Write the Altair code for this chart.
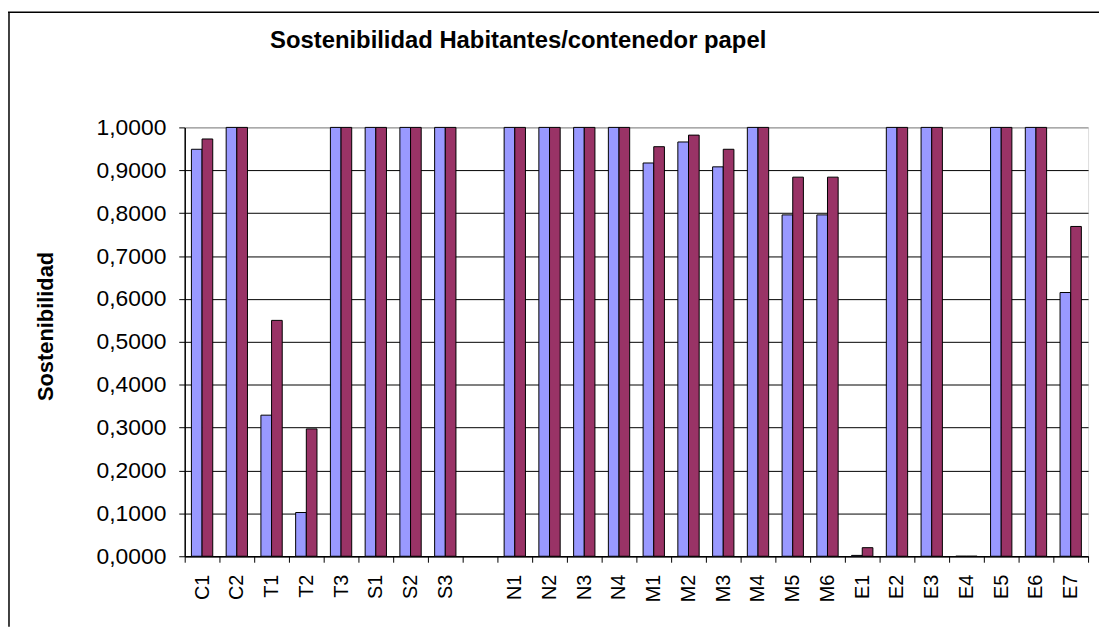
import altair as alt
import pandas as pd

categories = ["C1", "C2", "T1", "T2", "T3", "S1", "S2", "S3", " ",
              "N1", "N2", "N3", "N4", "M1", "M2", "M3", "M4", "M5", "M6",
              "E1", "E2", "E3", "E4", "E5", "E6", "E7"]
series_names = ["Serie1", "Serie2"]
serie1 = [0.949, 1.0, 0.329, 0.102, 1.0, 1.0, 1.0, 1.0, None,
          1.0, 1.0, 1.0, 1.0, 0.917, 0.966, 0.908, 1.0, 0.796, 0.796,
          0.002, 1.0, 1.0, 0.0, 1.0, 1.0, 0.615]
serie2 = [0.973, 1.0, 0.550, 0.297, 1.0, 1.0, 1.0, 1.0, None,
          1.0, 1.0, 1.0, 1.0, 0.955, 0.982, 0.949, 1.0, 0.884, 0.884,
          0.020, 1.0, 1.0, 0.0, 1.0, 1.0, 0.769]
colors = ["#9999FF", "#993366"]

rows = []
for c, a, b in zip(categories, serie1, serie2):
    if a is not None:
        rows.append({"cat": c, "serie": series_names[0], "value": a})
    if b is not None:
        rows.append({"cat": c, "serie": series_names[1], "value": b})
df = pd.DataFrame(rows)

FONT = "Liberation Sans"

bars = alt.Chart(df).mark_bar(stroke="black", strokeWidth=1).encode(
    x=alt.X("cat:N", sort=categories,
            scale=alt.Scale(domain=categories, paddingInner=0, paddingOuter=0),
            axis=alt.Axis(title=None, labelAngle=-90, labelFontSize=20,
                          labelFont=FONT, labelColor="black", labelPadding=12,
                          tickBand="extent", tickColor="black", tickSize=6,
                          domainColor="black", domainWidth=1.5, grid=False)),
    xOffset=alt.XOffset("serie:N", sort=series_names,
                        scale=alt.Scale(domain=series_names, paddingOuter=0.63,
                                        paddingInner=0)),
    y=alt.Y("value:Q",
            scale=alt.Scale(domain=[0, 1], nice=False),
            axis=alt.Axis(title="Sostenibilidad", values=[i / 10 for i in range(11)],
                          labelExpr="replace(format(datum.value, '.4f'), '.', ',')",
                          labelFontSize=23, labelFont=FONT, labelColor="black",
                          labelPadding=13, tickColor="black", tickSize=6,
                          domainColor="black", domainWidth=1.5,
                          gridColor={"condition": {"test": "datum.value == 1", "value": "#808080"},
                                     "value": "black"},
                          gridWidth=1,
                          titleFont=FONT, titleFontSize=22, titleFontWeight="bold",
                          titleColor="black", titleAngle=-90, titleX=-140, titleY=200,
                          titleAlign="center", titleBaseline="middle")),
    color=alt.Color("serie:N", sort=series_names,
                    scale=alt.Scale(domain=series_names, range=colors), legend=None),
)

frame_data = alt.Data(values=[{}])
frame_top = alt.Chart(frame_data).mark_rule(color="black", strokeWidth=1.5).encode(
    x=alt.value(-178), x2=alt.value(921), y=alt.value(-116))
frame_left = alt.Chart(frame_data).mark_rule(color="black", strokeWidth=1.5).encode(
    x=alt.value(-177), y=alt.value(-116), y2=alt.value(503))

chart = alt.layer(bars, frame_top, frame_left).properties(
    width=910, height=432,
    title=alt.TitleParams("Sostenibilidad Habitantes/contenedor papel",
                          anchor="start", frame="group", dx=86, offset=0, dy=61,
                          font=FONT, fontSize=24, fontWeight="bold", color="black",
                          baseline="alphabetic"),
    padding={"left": 178, "top": 118, "right": 11, "bottom": 71},
    autosize=alt.AutoSizeParams(type="none"),
).configure_view(stroke="#808080", strokeWidth=1.5).configure(background="white")

chart.save("out.html", embed_options={"renderer": "svg", "actions": False})
